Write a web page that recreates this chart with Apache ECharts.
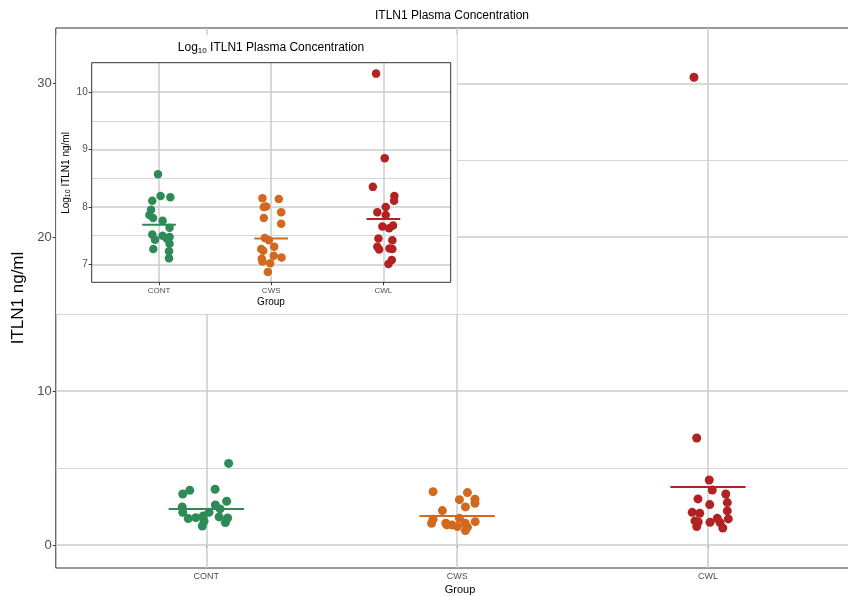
<!DOCTYPE html>
<html>
<head>
<meta charset="utf-8">
<script src="https://cdn.jsdelivr.net/npm/echarts@6/dist/echarts.min.js"></script>
<style>
  html, body { margin: 0; padding: 0; background: #fff; overflow: hidden; }
  #chart { width: 860px; height: 596px; }
</style>
</head>
<body>
<div id="chart"></div>
<script>
// Groups on the x axis
const groups = ['CONT', 'CWS', 'CWL'];
const groupColors = ['#2e8b57', '#d2691e', '#b22222'];

// ITLN1 concentration, ng/ml (main panel)
const contConc = [5.30, 3.31, 3.55, 3.62, 2.84, 2.60, 2.47, 2.12, 2.34, 2.12, 1.71, 1.77, 1.88, 1.54, 1.23, 1.82, 1.75, 1.45];
const contJitter = [0.089, -0.094, -0.066, 0.035, 0.081, 0.036, -0.096, -0.094, 0.055, 0.011, -0.072, -0.042, -0.012, -0.009, -0.016, 0.051, 0.085, 0.076];
const cwsConc = [3.46, 3.40, 2.94, 2.97, 2.71, 2.47, 2.23, 1.73, 1.67, 1.41, 1.41, 1.30, 1.19, 1.41, 1.15, 0.93, 1.51, 1.30];
const cwsJitter = [-0.096, 0.041, 0.009, 0.071, 0.071, 0.033, -0.059, 0.009, -0.096, -0.102, -0.045, -0.021, 0.001, 0.032, 0.041, 0.033, 0.072, -0.041];
const cwlConc = [30.4, 6.95, 4.22, 3.57, 3.31, 2.99, 2.75, 2.62, 2.12, 2.06, 2.21, 1.56, 1.49, 1.73, 1.45, 1.47, 1.69, 1.10, 1.19];
const cwlJitter = [-0.056, -0.045, 0.005, 0.017, 0.071, -0.040, 0.077, 0.007, -0.063, -0.033, 0.077, -0.052, -0.039, 0.037, 0.048, 0.008, 0.081, 0.059, -0.045];
const groupMeans = [2.34, 1.88, 3.77];

// Log-scale concentration (inset panel)
const contLog = [8.57, 8.19, 8.17, 8.11, 7.95, 7.86, 7.81, 7.76, 7.64, 7.52, 7.43, 7.50, 7.48, 7.36, 7.27, 7.23, 7.11, 7.45];
const contLogJitter = [-0.009, 0.014, 0.101, -0.060, -0.071, -0.086, -0.053, 0.032, 0.094, -0.060, -0.036, 0.032, 0.094, 0.094, -0.051, 0.089, 0.089, 0.069];
const cwsLog = [8.15, 8.14, 8.00, 8.01, 7.91, 7.81, 7.71, 7.46, 7.42, 7.31, 7.27, 7.24, 7.15, 7.12, 7.10, 7.05, 7.02, 6.87];
const cwsLogJitter = [-0.078, 0.068, -0.066, -0.045, 0.089, -0.066, 0.089, -0.057, -0.021, 0.027, -0.089, -0.071, 0.023, 0.092, -0.084, -0.078, -0.009, -0.030];
const cwlLog = [10.32, 8.85, 8.35, 8.19, 8.11, 8.00, 7.91, 7.86, 7.66, 7.63, 7.68, 7.45, 7.42, 7.31, 7.26, 7.28, 7.27, 7.08, 7.01];
const cwlLogJitter = [-0.065, 0.012, -0.094, 0.098, 0.095, 0.021, -0.054, 0.021, -0.009, 0.051, 0.086, -0.044, 0.080, -0.054, -0.038, 0.054, 0.080, 0.075, 0.045];
const groupLogMeans = [7.69, 7.45, 7.79];

// Axis tick values
const mainMajorTicks = [0, 10, 20, 30];
const mainMinorTicks = [5, 15, 25];
const insetMajorTicks = [7, 8, 9, 10];
const insetMinorTicks = [7.5, 8.5, 9.5];
const groupPositions = [1, 2, 3];

const FONT = '"Liberation Sans", Arial, sans-serif';
const GRID_MAJOR = { color: '#cccccc', width: 1.5, type: 'solid' };
const GRID_MINOR = { color: '#d6d6d6', width: 1, type: 'solid' };

const mainSets = [[contConc, contJitter], [cwsConc, cwsJitter], [cwlConc, cwlJitter]];
const insetSets = [[contLog, contLogJitter], [cwsLog, cwsLogJitter], [cwlLog, cwlLogJitter]];

// background grid lines of a panel, drawn as mark lines at the given z
function gridLines(majorY, minorY, z) {
  const data = [];
  majorY.forEach(v => data.push({ yAxis: v, lineStyle: GRID_MAJOR }));
  minorY.forEach(v => data.push({ yAxis: v, lineStyle: GRID_MINOR }));
  groupPositions.forEach(v => data.push({ xAxis: v, lineStyle: GRID_MAJOR }));
  return {
    z, silent: true, symbol: ['none', 'none'], label: { show: false },
    animation: false, emphasis: { disabled: true }, data
  };
}

function xAxisFor(gridIndex, fontSize, z) {
  return {
    gridIndex, type: 'value', min: 0.4, max: 3.6, z,
    axisLine: { show: false },
    splitLine: { show: false },
    axisTick: { show: true, customValues: groupPositions, length: 3, lineStyle: { color: '#333', width: 1 } },
    axisLabel: {
      customValues: groupPositions, color: '#4d4d4d', fontSize, fontFamily: FONT, margin: 4,
      formatter: v => groups[Math.round(v) - 1] || ''
    }
  };
}

function yAxisFor(gridIndex, min, max, ticks, fontSize, z) {
  return {
    gridIndex, type: 'value', min, max, z,
    axisLine: { show: false },
    splitLine: { show: false },
    axisTick: { show: true, customValues: ticks, length: 3, lineStyle: { color: '#333', width: 1 } },
    axisLabel: { customValues: ticks, color: '#4d4d4d', fontSize, fontFamily: FONT, margin: 4 }
  };
}

const series = [];
// main panel points and mean bars
mainSets.forEach(([vals, jit], g) => {
  series.push({
    type: 'scatter', xAxisIndex: 0, yAxisIndex: 0, z: 2,
    symbol: 'circle', symbolSize: 9,
    itemStyle: { color: groupColors[g], opacity: 1 },
    data: vals.map((v, i) => [g + 1 + jit[i], v]),
    markLine: g === 0 ? gridLines(mainMajorTicks, mainMinorTicks, 1) : undefined,
    animation: false
  });
  series.push({
    type: 'line', xAxisIndex: 0, yAxisIndex: 0, z: 3, symbol: 'none',
    lineStyle: { color: groupColors[g], width: 2 },
    data: [[g + 1 - 0.15, groupMeans[g]], [g + 1 + 0.15, groupMeans[g]]],
    animation: false
  });
});
// inset panel points and mean bars
insetSets.forEach(([vals, jit], g) => {
  series.push({
    type: 'scatter', xAxisIndex: 1, yAxisIndex: 1, z: 20,
    symbol: 'circle', symbolSize: 8.5,
    itemStyle: { color: groupColors[g], opacity: 1 },
    data: vals.map((v, i) => [g + 1 + jit[i], v]),
    markLine: g === 0 ? gridLines(insetMajorTicks, insetMinorTicks, 15) : undefined,
    animation: false
  });
  series.push({
    type: 'line', xAxisIndex: 1, yAxisIndex: 1, z: 21, symbol: 'none',
    lineStyle: { color: groupColors[g], width: 2 },
    data: [[g + 1 - 0.15, groupLogMeans[g]], [g + 1 + 0.15, groupLogMeans[g]]],
    animation: false
  });
});

const chart = echarts.init(document.getElementById('chart'), null, { renderer: 'canvas' });
chart.setOption({
  backgroundColor: '#ffffff',
  animation: false,
  grid: [
    { left: 55.8, top: 28, width: 802.7, height: 540, show: true, borderColor: '#333', borderWidth: 1, backgroundColor: 'transparent', z: 0 },
    { left: 91.7, top: 62.7, width: 359, height: 219.6, show: true, borderColor: '#333', borderWidth: 1, backgroundColor: 'transparent', z: 22 }
  ],
  xAxis: [xAxisFor(0, 9, 0), xAxisFor(1, 8, 22)],
  yAxis: [
    yAxisFor(0, -1.5, 33.6, mainMajorTicks, 13, 0),
    yAxisFor(1, 6.69, 10.51, insetMajorTicks, 10, 22)
  ],
  graphic: [
    // white backdrop behind the inset panel
    { type: 'rect', z: 10, silent: true, shape: { x: 56.3, y: 35, width: 400.5, height: 279 }, style: { fill: '#ffffff' } },
    { type: 'text', z: 30, x: 452, y: 16, style: { text: 'ITLN1 Plasma Concentration', fill: '#000', font: '12px ' + FONT, align: 'center', verticalAlign: 'middle' } },
    { type: 'text', z: 30, x: 460, y: 590, style: { text: 'Group', fill: '#000', font: '11px ' + FONT, align: 'center', verticalAlign: 'middle' } },
    { type: 'text', z: 30, x: 18, y: 298, rotation: Math.PI / 2, style: { text: 'ITLN1 ng/ml', fill: '#000', font: '17px ' + FONT, align: 'center', verticalAlign: 'middle' } },
    { type: 'text', z: 30, x: 271, y: 48, style: {
        text: 'Log{sub|10} ITLN1 Plasma Concentration', fill: '#000', font: '12px ' + FONT, align: 'center', verticalAlign: 'middle',
        rich: { sub: { fontSize: 8, fontFamily: FONT, fill: '#000', padding: [6, 0, 0, 0] } } } },
    { type: 'text', z: 30, x: 271, y: 302, style: { text: 'Group', fill: '#000', font: '10px ' + FONT, align: 'center', verticalAlign: 'middle' } },
    { type: 'text', z: 30, x: 66, y: 173, rotation: Math.PI / 2, style: {
        text: 'Log{sub|10} ITLN1 ng/ml', fill: '#000', font: '10px ' + FONT, align: 'center', verticalAlign: 'middle',
        rich: { sub: { fontSize: 7, fontFamily: FONT, fill: '#000', padding: [5, 0, 0, 0] } } } }
  ],
  series
});
</script>
</body>
</html>
